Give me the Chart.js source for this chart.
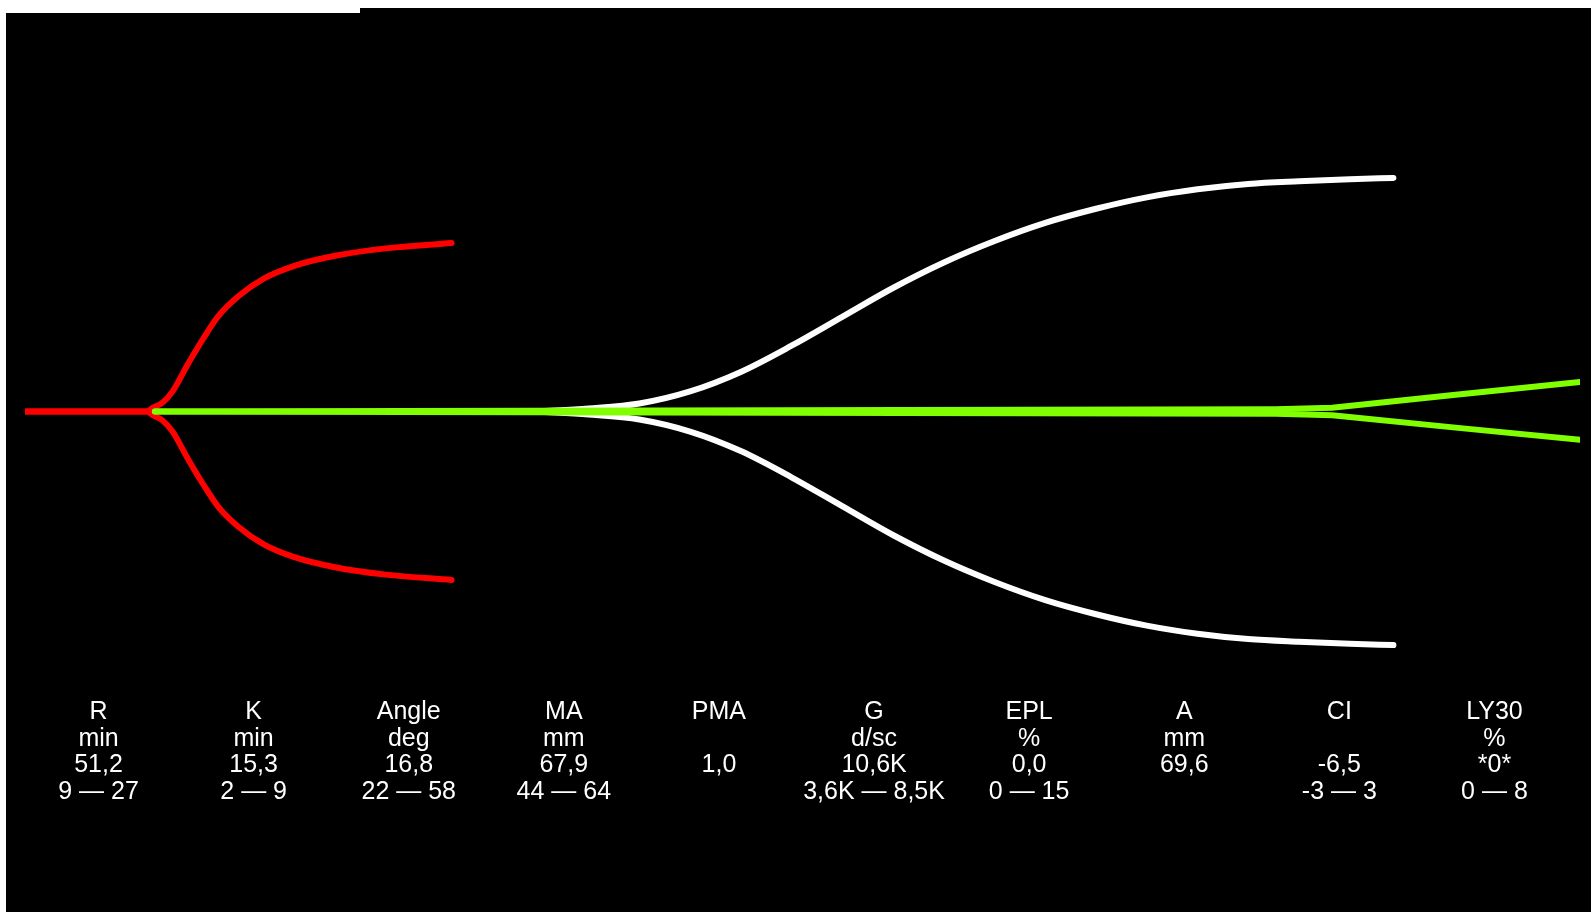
<!DOCTYPE html>
<html>
<head>
<meta charset="utf-8">
<title>TEG tracing</title>
<script src="https://cdn.jsdelivr.net/npm/chart.js@4/dist/chart.umd.min.js"></script>
<style>
  html, body { margin: 0; padding: 0; background: #fff; overflow: hidden; }
  .bg-main { position: absolute; left: 6px; top: 13px; width: 1585px; height: 899px; background: #000; }
  .bg-notch { position: absolute; left: 360px; top: 8px; width: 1231px; height: 5px; background: #000; }
  #wrap { position: absolute; left: 0; top: 0; width: 1591px; height: 912px; }
  #params {
    position: absolute; left: 21px; top: 697px; width: 1551px;
    display: grid; grid-template-columns: repeat(10, 1fr);
    font-family: "Liberation Sans", Arial, sans-serif; font-size: 25px;
    line-height: 26.7px; color: #fff; text-align: center;
  }
  #params .col div { height: 26.7px; white-space: nowrap; }
</style>
</head>
<body>
<div class="bg-main"></div>
<div class="bg-notch"></div>
<div id="wrap"><canvas id="teg"></canvas></div>
<div id="params"></div>

<script>
// time in minutes, amplitude in mm (half of the tracing, + up / - down)

// red trace (stops early)
const redTime = [0, 51, 53.2, 57.4, 61.7, 68.0, 74.4, 80.8, 89.3, 99.8, 112.6, 129.6, 150.8, 178.3];
const redAmp  = [0, 0, 0.5, 1.3, 3.0, 7.0, 10.8, 14.2, 17.2, 19.8, 21.7, 23.2, 24.3, 25.1];

// white trace
const whiteTime = [214.4, 235.6, 256.8, 278.0, 299.2, 320.4, 341.6, 362.8, 384.1, 405.3, 426.5, 447.7, 468.9, 490.1, 511.3, 532.5, 553.8, 572.0];
const whiteAmp  = [0, 0.45, 1.2, 3.0, 5.9, 9.8, 14.1, 18.4, 22.2, 25.4, 28.1, 30.2, 31.9, 33.1, 33.9, 34.3, 34.6, 34.8];

// green trace
const greenTime  = [54.3, 522.6, 546.4, 598.0, 650.0];
const greenUpper = [0, 0.35, 0.55, 2.5, 4.4];
const greenLower = [0, -0.35, -0.55, -2.4, -4.2];

// parameter table under the tracing
const paramNames  = ['R', 'K', 'Angle', 'MA', 'PMA', 'G', 'EPL', 'A', 'CI', 'LY30'];
const paramUnits  = ['min', 'min', 'deg', 'mm', '', 'd/sc', '%', 'mm', '', '%'];
const paramValues = ['51,2', '15,3', '16,8', '67,9', '1,0', '10,6K', '0,0', '69,6', '-6,5', '*0*'];
const paramRanges = ['9 — 27', '2 — 9', '22 — 58', '44 — 64', '', '3,6K — 8,5K', '0 — 15', '', '-3 — 3', '0 — 8'];

function pts(xs, ys, sign) {
  return xs.map((x, i) => ({ x: x, y: ys[i] * sign }));
}

function traceSet(data, color, order, smooth) {
  return {
    data: data,
    borderColor: color,
    borderWidth: 6,
    pointRadius: 0,
    fill: false,
    cubicInterpolationMode: smooth ? 'monotone' : 'default',
    tension: 0,
    borderCapStyle: 'round',
    borderJoinStyle: 'round',
    order: order
  };
}

const ctx = document.getElementById('teg').getContext('2d');
new Chart(ctx, {
  type: 'line',
  data: {
    datasets: [
      traceSet(pts(greenTime, greenUpper, 1), '#80ff00', 0, false),
      traceSet(pts(greenTime, greenLower, 1), '#80ff00', 0, false),
      traceSet(pts(redTime, redAmp, 1), '#ff0000', 1, true),
      traceSet(pts(redTime, redAmp, -1), '#ff0000', 1, true),
      traceSet(pts(whiteTime, whiteAmp, 1), '#ffffff', 2, true),
      traceSet(pts(whiteTime, whiteAmp, -1), '#ffffff', 2, true)
    ]
  },
  options: {
    responsive: true,
    maintainAspectRatio: false,
    animation: false,
    layout: { padding: { left: 25, right: 11, top: 143, bottom: 232 } },
    plugins: { legend: { display: false }, tooltip: { enabled: false } },
    scales: {
      x: { type: 'linear', min: 0, max: 650, display: false },
      y: { type: 'linear', min: -40, max: 40, display: false }
    }
  }
});

const params = document.getElementById('params');
paramNames.forEach((name, i) => {
  const col = document.createElement('div');
  col.className = 'col';
  [name, paramUnits[i], paramValues[i], paramRanges[i]].forEach(t => {
    const line = document.createElement('div');
    line.textContent = t;
    col.appendChild(line);
  });
  params.appendChild(col);
});
</script>
</body>
</html>
